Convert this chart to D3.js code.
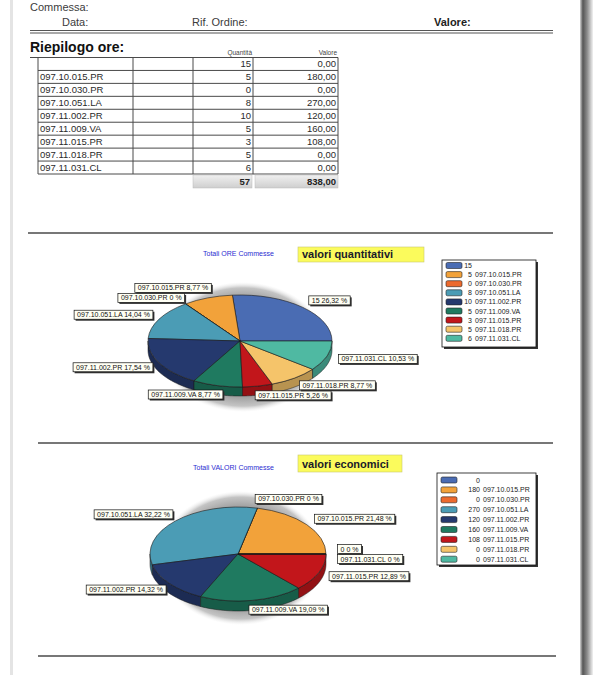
<!DOCTYPE html>
<html>
<head>
<meta charset="utf-8">
<script src="https://cdn.jsdelivr.net/npm/d3@7"></script>
<style>
  body { margin: 0; background: #fff; }
  svg { display: block; }
</style>
</head>
<body>
<div id="page"></div>
<script>
// Riepilogo ore - data
const codes = ["", "097.10.015.PR", "097.10.030.PR", "097.10.051.LA", "097.11.002.PR",
               "097.11.009.VA", "097.11.015.PR", "097.11.018.PR", "097.11.031.CL"];
const quantities = [15, 5, 0, 8, 10, 5, 3, 5, 6];
const values = [0, 180, 0, 270, 120, 160, 108, 0, 0];
const sliceColors = ["#4a6cb3", "#f2a23a", "#ec6a2e", "#4b9cb5", "#25396e",
                     "#1f7a60", "#c2161b", "#f5c46a", "#4fb9a2"];
const headerTexts = [["Commessa:", 30, 11, false], ["Data:", 62, 26, false],
                     ["Rif. Ordine:", 192, 26, false], ["Valore:", 434, 26, true]];
// labels that the report engine dropped on the economic chart
const hiddenValueLabels = ["097.11.018.PR"];

const W = 600, H = 675;
const it = d3.formatLocale({ decimal: ",", thousands: ".", grouping: [3], currency: ["", "€"] });
const money = it.format(".2f");
const pctFmt = p => p === 0 ? "0" : it.format(".2f")(p);

const svg = d3.select("#page").append("svg")
    .attr("width", W)
    .attr("height", H)
    .style("font-family", "'Liberation Sans', Arial, sans-serif");
const defs = svg.append("defs");

// page frame
const edge = defs.append("linearGradient").attr("id", "edge");
[["0%", "#d4d4d4"], ["22%", "#555"], ["55%", "#8c8c8c"], ["100%", "#f2f2f2"]].forEach(([o, c]) =>
    edge.append("stop").attr("offset", o).attr("stop-color", c));
svg.append("rect").attr("x", 580).attr("y", 0).attr("width", 13).attr("height", H).attr("fill", "url(#edge)");
svg.append("rect").attr("x", 10).attr("y", 0).attr("width", 3).attr("height", H).attr("fill", "#e4e4e4");

const shadowGrad = defs.append("radialGradient").attr("id", "pieShadow");
[["0%", "#8c8c8c", 1], ["78%", "#a4a4a4", 1], ["91%", "#c4c4c4", 1], ["100%", "#eeeeee", 0]].forEach(([o, c, op]) =>
    shadowGrad.append("stop").attr("offset", o).attr("stop-color", c).attr("stop-opacity", op));

const totGrad = defs.append("linearGradient").attr("id", "totCell").attr("x2", 0).attr("y2", 1);
[["0%", "#f0f0f0"], ["100%", "#cfcfcf"]].forEach(([o, c]) =>
    totGrad.append("stop").attr("offset", o).attr("stop-color", c));

// header
headerTexts.forEach(([t, x, y, bold]) => {
    svg.append("text").attr("x", x).attr("y", y)
        .style("font-size", "11px")
        .style("font-weight", bold ? "bold" : "normal")
        .attr("fill", bold ? "#222" : "#3c3c3c")
        .text(t);
});
[30.5, 33].forEach(y => svg.append("line")
    .attr("x1", 30).attr("x2", 553).attr("y1", y).attr("y2", y)
    .attr("stroke", "#555").attr("stroke-width", 1.2));

svg.append("text").attr("x", 30).attr("y", 52)
    .style("font-size", "14px").style("font-weight", "bold").attr("fill", "#111")
    .text("Riepilogo ore:");
svg.append("text").attr("x", 252).attr("y", 55).attr("text-anchor", "end")
    .style("font-size", "6.5px").attr("fill", "#444").text("Quantità");
svg.append("text").attr("x", 337).attr("y", 55).attr("text-anchor", "end")
    .style("font-size", "6.5px").attr("fill", "#444").text("Valore");

// table
const colX = [38, 133, 193, 253, 338];
const rowY = d3.scaleBand().domain(d3.range(codes.length)).range([57.5, 174]);
const table = svg.append("g").attr("stroke", "#4a4a4a").attr("stroke-width", 1);
d3.range(codes.length + 1).forEach(i => {
    const y = i < codes.length ? rowY(i) : rowY.range()[1];
    table.append("line").attr("x1", i === 0 ? 30 : colX[0]).attr("x2", colX[4]).attr("y1", y).attr("y2", y);
});
colX.forEach(x => table.append("line").attr("x1", x).attr("x2", x)
    .attr("y1", rowY.range()[0]).attr("y2", rowY.range()[1]));

const rows = svg.append("g").style("font-size", "9.5px").attr("fill", "#2a2a2a");
codes.forEach((c, i) => {
    const y = rowY(i) + rowY.bandwidth() / 2 + 3.5;
    rows.append("text").attr("x", colX[0] + 2).attr("y", y).text(c);
    rows.append("text").attr("x", colX[3] - 2).attr("y", y).attr("text-anchor", "end").text(quantities[i]);
    rows.append("text").attr("x", colX[4] - 2).attr("y", y).attr("text-anchor", "end").text(money(values[i]));
});
// totals row
const totY = rowY.range()[1] + 1;
[[colX[2], colX[3] - 1, d3.sum(quantities)], [colX[3] + 2, colX[4], money(d3.sum(values))]].forEach(([x0, x1, t]) => {
    svg.append("rect").attr("x", x0).attr("y", totY).attr("width", x1 - x0).attr("height", 13)
        .attr("fill", "url(#totCell)").attr("stroke", "#bbb").attr("stroke-width", 0.5);
    svg.append("text").attr("x", x1 - 2).attr("y", totY + 10).attr("text-anchor", "end")
        .style("font-size", "9.5px").style("font-weight", "bold").attr("fill", "#222").text(t);
});

// separators
[[233, 28, 553], [443, 38, 553], [656, 38, 556]].forEach(([y, x1, x2]) =>
    svg.append("line").attr("x1", x1).attr("x2", x2).attr("y1", y).attr("y2", y)
        .attr("stroke", "#777").attr("stroke-width", 2));

function drawTitle(t, tx, ty, box, label) {
    svg.append("text").attr("x", tx).attr("y", ty)
        .style("font-size", "7px").attr("fill", "#2b2bd0").text(t);
    svg.append("rect").attr("x", box[0]).attr("y", box[1]).attr("width", box[2]).attr("height", box[3])
        .attr("fill", "#fbfb5c").attr("stroke", "#c8c870").attr("stroke-width", 0.6);
    svg.append("text").attr("x", box[0] + 4).attr("y", box[1] + box[3] - 4)
        .style("font-size", "11px").style("font-weight", "bold").attr("fill", "#1a1a2a").text(label);
}

function drawPie(series, cfg) {
    const { cx, cy, rx, ry, depth, sh, hidden } = cfg;
    const total = d3.sum(series);
    const pie = d3.pie().sort(null).startAngle(Math.PI / 2).endAngle(Math.PI / 2 - 2 * Math.PI);
    const arcs = pie(series);
    const g = svg.append("g");
    const pt = (a, k = 1, dy = 0) => [cx + rx * k * Math.sin(a), cy - ry * k * Math.cos(a) + dy];

    g.append("ellipse").attr("cx", sh[0]).attr("cy", sh[1]).attr("rx", sh[2]).attr("ry", sh[3])
        .attr("fill", "url(#pieShadow)");

    // front side walls
    arcs.forEach((d, i) => {
        const lo = Math.max(Math.min(d.startAngle, d.endAngle), -1.5 * Math.PI);
        const hi = Math.min(Math.max(d.startAngle, d.endAngle), -0.5 * Math.PI);
        if (hi <= lo) return;
        const steps = d3.range(41).map(t => lo + (hi - lo) * t / 40);
        const pts = steps.map(a => pt(a)).concat(steps.slice().reverse().map(a => pt(a, 1, depth)));
        g.append("path").attr("d", d3.line()(pts) + "Z")
            .attr("fill", d3.color(sliceColors[i]).darker(0.8))
            .attr("stroke", "#1a1a1a").attr("stroke-width", 0.5);
    });

    // top face
    const arc = d3.arc().innerRadius(0).outerRadius(rx);
    g.append("g").attr("transform", `translate(${cx},${cy}) scale(1,${ry / rx})`)
        .selectAll("path").data(arcs).join("path")
        .attr("d", arc)
        .attr("fill", (d, i) => sliceColors[i])
        .attr("stroke", "#1a1a1a").attr("stroke-width", 0.6)
        .attr("vector-effect", "non-scaling-stroke");

    // labels
    const labels = arcs.map((d, i) => {
        const m = (d.startAngle + d.endAngle) / 2;
        const [ax, ay] = pt(m, 1.2);
        const name = codes[i] || String(series[i]);
        return { i, ax, ay, right: Math.sin(m) > 0, text: `${name} ${pctFmt(series[i] / total * 100)} %` };
    }).filter(l => !hidden.includes(codes[l.i]));

    const hgt = 10;
    [true, false].forEach(side => {
        const s = labels.filter(l => l.right === side).sort((a, b) => a.ay - b.ay);
        for (let k = 0; k < 30; k++) {
            for (let j = 1; j < s.length; j++) {
                const diff = s[j].ay - s[j - 1].ay;
                if (diff < hgt) { const dlt = (hgt - diff) / 2; s[j - 1].ay -= dlt; s[j].ay += dlt; }
            }
        }
    });

    labels.forEach(l => {
        const lg = g.append("g");
        const txt = lg.append("text").style("font-size", "7px").attr("fill", "#111").text(l.text);
        const w = txt.node().getComputedTextLength() + 6;
        const x0 = l.right ? l.ax - 6 : l.ax + 10 - w;
        const y0 = l.ay - 4.5;
        lg.insert("rect", "text").attr("x", x0 + 1.5).attr("y", y0 + 1.5).attr("width", w).attr("height", 9)
            .attr("fill", "#333");
        lg.insert("rect", "text").attr("x", x0).attr("y", y0).attr("width", w).attr("height", 9)
            .attr("fill", "#fffff4").attr("stroke", "#111").attr("stroke-width", 0.7);
        txt.attr("x", x0 + 3).attr("y", y0 + 7);
    });
}

function drawLegend(series, cfg) {
    const { x, y, w, h, firstY, step, valX, swX } = cfg;
    const g = svg.append("g");
    g.append("rect").attr("x", x + 2).attr("y", y + 2).attr("width", w).attr("height", h).attr("fill", "#333");
    g.append("rect").attr("x", x).attr("y", y).attr("width", w).attr("height", h)
        .attr("fill", "#fff").attr("stroke", "#111").attr("stroke-width", 0.8);
    const ly = d3.scaleLinear().domain([0, series.length - 1]).range([firstY, firstY + step * (series.length - 1)]);
    series.forEach((v, i) => {
        g.append("rect").attr("x", swX).attr("y", ly(i) - 3).attr("width", 16).attr("height", 6).attr("rx", 1.5)
            .attr("fill", sliceColors[i]).attr("stroke", "#222").attr("stroke-width", 0.6);
        g.append("text").attr("x", valX).attr("y", ly(i) + 2.5).attr("text-anchor", "end")
            .style("font-size", "7px").attr("fill", "#222").text(v);
        g.append("text").attr("x", valX + 3).attr("y", ly(i) + 2.5)
            .style("font-size", "7px").attr("fill", "#222").text(codes[i]);
    });
}

// chart 1: quantities
drawTitle("Totali ORE Commesse", 203, 256, [298, 247, 126, 15], "valori quantitativi");
drawPie(quantities, { cx: 240, cy: 341, rx: 92, ry: 46, depth: 9, sh: [243, 347, 84, 65], hidden: [] });
drawLegend(quantities, { x: 442, y: 260, w: 94, h: 87, firstY: 265.5, step: 9.1, valX: 472, swX: 446 });

// chart 2: values
drawTitle("Totali VALORI Commesse", 193, 470, [298, 455, 104, 17], "valori economici");
drawPie(values, { cx: 238, cy: 554, rx: 88, ry: 47, depth: 10, sh: [241, 558, 82, 67], hidden: hiddenValueLabels });
drawLegend(values, { x: 437, y: 473, w: 99, h: 92, firstY: 480, step: 9.9, valX: 480, swX: 441 });
</script>
</body>
</html>
